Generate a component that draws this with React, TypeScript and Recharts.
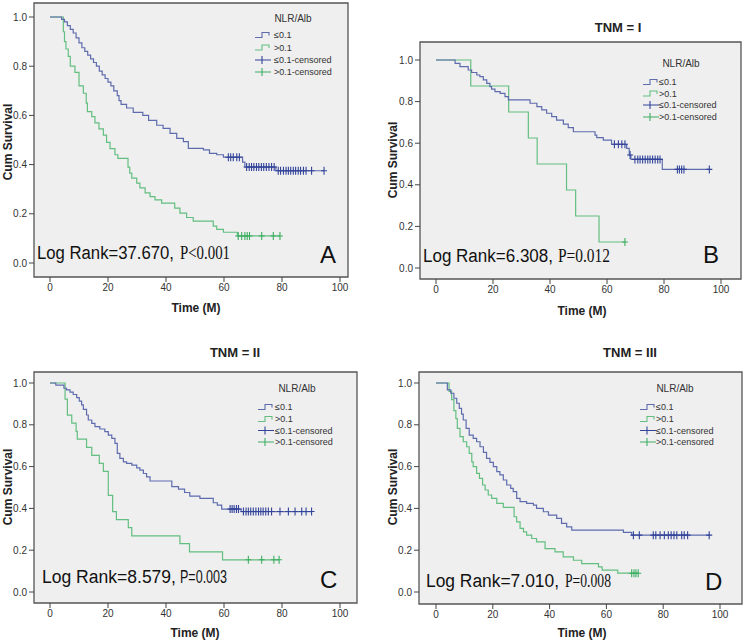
import React from 'react';
import { LineChart, Line, XAxis, YAxis, ReferenceArea } from 'recharts';

// ---------- tick labels ----------
const xTicks = [0, 20, 40, 60, 80, 100];
const yTicks = [0, 0.2, 0.4, 0.6, 0.8, 1.0];

// ---------- Panel A (all patients) ----------
const aLowT = [4.0, 5.0, 6.0, 7.0, 8.0, 9.0, 10.0, 11.0, 12.0, 13.0, 14.0, 15.0, 16.0, 17.0, 18.0, 19.0, 20.0, 21.0, 22.0, 23.2, 23.8, 24.5, 26.4, 28.7, 32.0, 34.0, 36.8, 39.0, 41.4, 43.7, 46.0, 47.7, 52.9, 55.0, 57.5, 59.8, 66.4, 67.2, 77.9];
const aLowS = [0.99, 0.98, 0.965, 0.95, 0.935, 0.915, 0.895, 0.875, 0.86, 0.845, 0.83, 0.815, 0.8, 0.78, 0.765, 0.75, 0.735, 0.72, 0.7, 0.68, 0.66, 0.645, 0.63, 0.612, 0.6, 0.58, 0.56, 0.547, 0.527, 0.507, 0.493, 0.466, 0.46, 0.446, 0.44, 0.43, 0.41, 0.39, 0.375];
const aLowC = [61.5, 62.3, 63.2, 64.4, 65.3, 67.8, 68.7, 69.5, 70.3, 71.2, 72.0, 72.9, 73.7, 74.6, 75.5, 76.4, 77.3, 78.7, 79.5, 80.5, 81.4, 82.2, 83.0, 83.9, 84.7, 85.6, 86.4, 87.4, 88.3, 90.2, 94.5];
const aHighT = [4.6, 5.0, 5.5, 6.3, 7.0, 8.6, 10.0, 11.5, 12.5, 12.9, 14.4, 15.5, 16.9, 18.4, 19.5, 20.7, 22.4, 23.4, 26.9, 27.5, 28.2, 29.9, 31.0, 32.8, 34.5, 36.2, 38.5, 43.0, 44.8, 47.1, 49.4, 56.3, 57.5, 59.8, 64.6];
const aHighS = [0.94, 0.9, 0.87, 0.84, 0.8, 0.775, 0.72, 0.69, 0.65, 0.615, 0.595, 0.57, 0.545, 0.52, 0.49, 0.465, 0.44, 0.425, 0.39, 0.365, 0.345, 0.325, 0.305, 0.285, 0.27, 0.257, 0.243, 0.223, 0.203, 0.185, 0.17, 0.15, 0.137, 0.125, 0.11];
const aHighC = [64.9, 66.1, 67.2, 68.0, 68.8, 73.0, 77.0, 79.3];

// ---------- Panel B (TNM = I) ----------
const bLowT = [6.7, 8.4, 11.3, 12.5, 14.3, 15.4, 16.6, 17.8, 18.9, 19.5, 20.7, 22.5, 24.2, 25.4, 33.0, 35.4, 37.1, 38.8, 40.6, 42.3, 44.7, 46.4, 48.2, 55.8, 56.4, 58.7, 61.6, 66.9, 67.8, 68.4, 79.4];
const bLowS = [0.984, 0.968, 0.952, 0.94, 0.928, 0.92, 0.904, 0.888, 0.872, 0.86, 0.848, 0.84, 0.824, 0.808, 0.792, 0.776, 0.76, 0.744, 0.728, 0.711, 0.692, 0.675, 0.655, 0.639, 0.627, 0.615, 0.595, 0.575, 0.543, 0.522, 0.474];
const bLowC = [62.6, 64.0, 65.2, 66.3, 68.1, 69.8, 70.8, 71.6, 72.5, 73.4, 74.3, 75.1, 76.0, 76.9, 77.8, 78.6, 84.7, 85.4, 86.2, 87.0, 95.9];
const bHighT = [12.2, 25.5, 32.4, 35.5, 45.8, 49.0, 57.2];
const bHighS = [0.875, 0.75, 0.625, 0.5, 0.375, 0.25, 0.125];
const bHighC = [66.3];

// ---------- Panel C (TNM = II) ----------
const cLowT = [2.0, 4.8, 5.7, 6.9, 8.0, 9.2, 10.1, 10.9, 11.5, 12.6, 13.2, 14.4, 15.5, 17.2, 18.9, 20.1, 21.3, 22.4, 23.2, 24.1, 25.3, 26.4, 28.2, 29.9, 31.0, 32.2, 33.3, 34.5, 42.0, 44.3, 46.4, 48.2, 51.7, 56.3, 57.7, 59.2, 65.9];
const cLowS = [0.99, 0.975, 0.967, 0.956, 0.945, 0.93, 0.913, 0.895, 0.874, 0.847, 0.823, 0.807, 0.791, 0.78, 0.767, 0.751, 0.735, 0.711, 0.663, 0.639, 0.623, 0.615, 0.607, 0.594, 0.583, 0.567, 0.551, 0.531, 0.504, 0.492, 0.476, 0.459, 0.448, 0.427, 0.416, 0.397, 0.385];
const cLowC = [62.1, 62.8, 63.5, 64.3, 65.0, 66.7, 67.6, 68.4, 69.2, 70.1, 71.0, 71.9, 72.7, 73.5, 74.4, 75.3, 76.4, 79.3, 82.2, 84.5, 86.8, 88.3, 90.2];
const cHighT = [5.2, 6.0, 7.5, 9.0, 9.4, 12.6, 14.4, 17.0, 18.4, 20.1, 21.6, 22.9, 27.0, 28.2, 44.8, 48.1, 59.5];
const cHighS = [0.923, 0.846, 0.808, 0.769, 0.731, 0.692, 0.654, 0.615, 0.577, 0.462, 0.385, 0.346, 0.308, 0.269, 0.231, 0.192, 0.154];
const cHighC = [68.4, 73.0, 77.2, 79.0];

// ---------- Panel D (TNM = III) ----------
const dLowT = [4.0, 5.2, 6.3, 7.3, 8.2, 9.0, 9.6, 10.6, 11.7, 13.1, 14.3, 15.5, 16.7, 17.8, 19.0, 20.2, 21.4, 22.5, 23.7, 24.9, 26.3, 27.2, 28.4, 29.6, 31.9, 34.3, 35.4, 37.8, 39.6, 42.5, 44.2, 46.0, 47.8, 66.0, 68.9];
const dLowS = [0.967, 0.951, 0.927, 0.903, 0.879, 0.851, 0.823, 0.783, 0.751, 0.735, 0.719, 0.695, 0.668, 0.639, 0.62, 0.6, 0.576, 0.56, 0.536, 0.512, 0.496, 0.48, 0.448, 0.432, 0.424, 0.416, 0.4, 0.384, 0.368, 0.352, 0.328, 0.312, 0.296, 0.285, 0.272];
const dLowC = [69.5, 71.6, 76.5, 77.4, 78.9, 80.4, 81.8, 82.8, 83.8, 84.8, 86.5, 87.4, 88.6, 96.2];
const dHighT = [4.6, 5.5, 6.3, 7.0, 7.5, 8.45, 9.6, 10.8, 11.7, 12.6, 13.1, 14.3, 15.3, 16.4, 17.3, 18.4, 19.6, 21.4, 23.7, 27.5, 28.4, 29.6, 30.8, 31.9, 33.7, 35.4, 38.4, 41.9, 44.8, 48.4, 51.3, 57.2, 58.5, 64.0];
const dHighS = [0.96, 0.92, 0.868, 0.83, 0.783, 0.743, 0.719, 0.695, 0.663, 0.623, 0.6, 0.568, 0.544, 0.512, 0.488, 0.464, 0.448, 0.424, 0.405, 0.36, 0.336, 0.304, 0.288, 0.272, 0.256, 0.24, 0.208, 0.192, 0.168, 0.152, 0.136, 0.12, 0.105, 0.09];
const dHighC = [68.9, 69.7, 70.4, 71.2];

// ---------- texts ----------
const legendTitle = 'NLR/Alb';
const legendLabels = ['≤0.1', '>0.1', '≤0.1-censored', '>0.1-censored'];
const panelTitles = ['', 'TNM = I', 'TNM = II', 'TNM = III'];
const panelLetters = ['A', 'B', 'C', 'D'];
const logRankMain = ['Log Rank=37.670,', 'Log Rank=6.308,', 'Log Rank=8.579,', 'Log Rank=7.010,'];
const logRankP = ['P<0.001', 'P=0.012', 'P=0.003', 'P=0.008'];
const pSerif = [true, true, false, true];

// ---------- styling ----------
const BLUE = '#5e6cae';
const BLUE_C = '#33449a';
const GREEN = '#63bf80';
const GREEN_C = '#3cae62';
const FONT = 'Liberation Sans, Arial, sans-serif';
const SERIF = 'Liberation Serif, Times New Roman, serif';

type Pt = { t: number; s: number; c?: boolean };
function buildKM(times: number[], surv: number[], cens: number[]): Pt[] {
  const pts: Pt[] = [{ t: 0, s: 1 }];
  times.forEach((t, i) => pts.push({ t, s: surv[i] }));
  cens.forEach((c) => {
    let s = 1;
    times.forEach((t, i) => {
      if (t <= c) s = surv[i];
    });
    pts.push({ t: c, s, c: true });
  });
  pts.sort((a, b) => a.t - b.t || (a.c ? 1 : 0) - (b.c ? 1 : 0));
  return pts;
}

const censorDot = (color: string) => (props: any) => {
  const { cx, cy, payload, index } = props;
  if (!payload || !payload.c || cx == null) return <g key={`n${index}`} />;
  return (
    <path
      key={`c${index}`}
      d={`M${cx},${cy - 4}V${cy + 4}M${cx - 3},${cy}H${cx + 3}`}
      stroke={color}
      strokeWidth={1.1}
      fill="none"
    />
  );
};

type Panel = {
  box: { x: number; y: number; w: number; h: number };
  frame: [number, number, number, number];
  px0: number; px100: number; py1: number; py0: number;
  low: Pt[]; high: Pt[];
  title: { x: number; y: number };
  legend: { ix: number; tx: number; titleX: number; titleY: number; rows: number[] };
  lr: { x: number; y: number; w: number; px: number; pw: number };
  letter: { x: number; y: number };
  ylab: { x: number; y: number };
  xlab: { x: number; y: number };
};

const panels: Panel[] = [
  {
    box: { x: 0, y: 0, w: 373, h: 320 }, frame: [34, 3, 348, 277],
    px0: 50, px100: 340, py1: 17, py0: 263,
    low: buildKM(aLowT, aLowS, aLowC), high: buildKM(aHighT, aHighS, aHighC),
    title: { x: 0, y: 0 },
    legend: { ix: 255, tx: 274, titleX: 293, titleY: 18, rows: [35, 47.5, 60, 72] },
    lr: { x: 37, y: 259, w: 137, px: 180, pw: 50 }, letter: { x: 320, y: 263 },
    ylab: { x: 8, y: 142 }, xlab: { x: 196, y: 308 },
  },
  {
    box: { x: 373, y: 0, w: 374, h: 320 }, frame: [420, 42, 741, 279],
    px0: 436, px100: 721, py1: 60, py0: 268,
    low: buildKM(bLowT, bLowS, bLowC), high: buildKM(bHighT, bHighS, bHighC),
    title: { x: 618, y: 27 },
    legend: { ix: 643, tx: 659, titleX: 681, titleY: 63, rows: [82, 93.5, 105, 117] },
    lr: { x: 423, y: 262, w: 130, px: 558, pw: 52 }, letter: { x: 703, y: 263 },
    ylab: { x: 393, y: 160 }, xlab: { x: 582, y: 311 },
  },
  {
    box: { x: 0, y: 320, w: 373, h: 324 }, frame: [34, 372, 357, 603],
    px0: 50, px100: 340, py1: 383, py0: 592,
    low: buildKM(cLowT, cLowS, cLowC), high: buildKM(cHighT, cHighS, cHighC),
    title: { x: 235, y: 352 },
    legend: { ix: 258, tx: 275, titleX: 297, titleY: 388, rows: [407, 419, 430.5, 442] },
    lr: { x: 42, y: 583, w: 134, px: 180, pw: 47 }, letter: { x: 320, y: 588 },
    ylab: { x: 8, y: 487 }, xlab: { x: 195, y: 633 },
  },
  {
    box: { x: 373, y: 320, w: 374, h: 324 }, frame: [419, 372, 742, 604],
    px0: 436, px100: 720, py1: 383, py0: 592,
    low: buildKM(dLowT, dLowS, dLowC), high: buildKM(dHighT, dHighS, dHighC),
    title: { x: 630, y: 352 },
    legend: { ix: 640, tx: 656, titleX: 675, titleY: 388, rows: [407, 419, 430.5, 442] },
    lr: { x: 426, y: 587, w: 133, px: 565, pw: 46 }, letter: { x: 705, y: 590 },
    ylab: { x: 393, y: 487 }, xlab: { x: 582, y: 633 },
  },
];

const Y_W = 30;
const X_H = 25;

function PanelChart({ p }: { p: Panel }) {
  const [fx0, fy0, fx1, fy1] = p.frame;
  const xs = (p.px100 - p.px0) / 100;
  const ys = p.py0 - p.py1;
  const xmin = (fx0 - p.px0) / xs;
  const xmax = (fx1 - p.px0) / xs;
  const ymax = 1 + (p.py1 - fy0) / ys;
  const ymin = -(fy1 - p.py0) / ys;
  const margin = {
    left: fx0 - p.box.x - Y_W,
    top: fy0 - p.box.y,
    right: p.box.x + p.box.w - fx1,
    bottom: p.box.y + p.box.h - fy1 - X_H,
  };
  return (
    <div style={{ position: 'absolute', left: p.box.x, top: p.box.y }}>
      <LineChart width={p.box.w} height={p.box.h} margin={margin}>
        <XAxis
          type="number" dataKey="t" domain={[xmin, xmax]} ticks={xTicks}
          allowDataOverflow axisLine={false} tickSize={5} tickMargin={2} height={X_H}
          tick={{ fontSize: 10, fill: '#333', fontFamily: FONT }}
          tickLine={{ stroke: '#444' }} interval={0}
        />
        <YAxis
          type="number" dataKey="s" domain={[ymin, ymax]} ticks={yTicks}
          allowDataOverflow axisLine={false} tickSize={5} tickMargin={2} width={Y_W}
          tick={{ fontSize: 10, fill: '#333', fontFamily: FONT }}
          tickLine={{ stroke: '#444' }} interval={0}
          tickFormatter={(v: number) => v.toFixed(1)}
        />
        <ReferenceArea
          x1={xmin} x2={xmax} y1={ymin} y2={ymax}
          fill="#efefef" fillOpacity={1} stroke="#555" strokeWidth={1.3} ifOverflow="visible"
        />
        <Line
          data={p.high} dataKey="s" type="stepAfter" stroke={GREEN} strokeWidth={1.2}
          dot={censorDot(GREEN_C)} activeDot={false} isAnimationActive={false}
        />
        <Line
          data={p.low} dataKey="s" type="stepAfter" stroke={BLUE} strokeWidth={1.2}
          dot={censorDot(BLUE_C)} activeDot={false} isAnimationActive={false}
        />
      </LineChart>
    </div>
  );
}

function Overlay() {
  return (
    <svg width={747} height={644} style={{ position: 'absolute', left: 0, top: 0, pointerEvents: 'none' }}>
      {panels.map((p, i) => {
        const L = p.legend;
        const colors = [BLUE, GREEN, BLUE, GREEN];
        return (
          <g key={i}>
            {panelTitles[i] && (
              <text x={p.title.x} y={p.title.y} textAnchor="middle" dominantBaseline="central"
                fontFamily={FONT} fontWeight="bold" fontSize={13} fill="#222">{panelTitles[i]}</text>
            )}
            <text x={L.titleX} y={L.titleY} textAnchor="middle" dominantBaseline="central"
              fontFamily={FONT} fontSize={10} fill="#333">{legendTitle}</text>
            {legendLabels.map((lab, k) => {
              const y = L.rows[k];
              const c = colors[k];
              const icon = k < 2
                ? <path d={`M${L.ix},${y + 2.5}H${L.ix + 7}V${y - 2.5}H${L.ix + 14}V${y + 0.5}`} stroke={c} strokeWidth={1.1} fill="none" />
                : <path d={`M${L.ix},${y}H${L.ix + 16}M${L.ix + 7},${y - 4}V${y + 4}`} stroke={k === 2 ? BLUE_C : GREEN_C} strokeWidth={1.1} fill="none" />;
              return (
                <g key={k}>
                  {icon}
                  <text x={L.tx} y={y} dominantBaseline="central" fontFamily={FONT} fontSize={9} fill="#333">{lab}</text>
                </g>
              );
            })}
            <text x={p.lr.x} y={p.lr.y} fontFamily={FONT} fontSize={18} fill="#111"
              textLength={p.lr.w} lengthAdjust="spacingAndGlyphs">{logRankMain[i]}</text>
            <text x={p.lr.px} y={p.lr.y} fontFamily={pSerif[i] ? SERIF : FONT} fontSize={18} fill="#111"
              textLength={p.lr.pw} lengthAdjust="spacingAndGlyphs">{logRankP[i]}</text>
            <text x={p.letter.x} y={p.letter.y} fontFamily={FONT} fontSize={24} fill="#111">{panelLetters[i]}</text>
            <text x={p.ylab.x} y={p.ylab.y} textAnchor="middle" dominantBaseline="central"
              transform={`rotate(-90 ${p.ylab.x} ${p.ylab.y})`}
              fontFamily={FONT} fontWeight="bold" fontSize={12} fill="#222">Cum Survival</text>
            <text x={p.xlab.x} y={p.xlab.y} textAnchor="middle" dominantBaseline="central"
              fontFamily={FONT} fontWeight="bold" fontSize={12} fill="#222">Time (M)</text>
          </g>
        );
      })}
    </svg>
  );
}

export default function App() {
  return (
    <div style={{ position: 'absolute', left: 0, top: 0, width: 747, height: 644, background: '#fff', overflow: 'hidden' }}>
      {panels.map((p, i) => <PanelChart key={i} p={p} />)}
      <Overlay />
    </div>
  );
}
